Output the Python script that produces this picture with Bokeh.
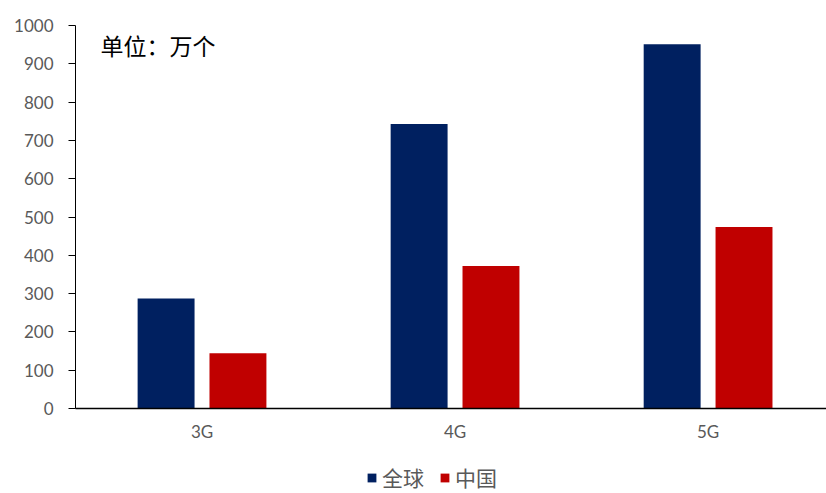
from bokeh.plotting import figure
from bokeh.layouts import column
from bokeh.models import ColumnDataSource, FixedTicker, Range1d, Legend, LegendItem, Label
from bokeh.embed import file_html
from bokeh.resources import INLINE

categories = ["3G", "4G", "5G"]
global_vals = [287, 743, 951]
china_vals = [144, 372, 474]
series_names = ["全球", "中国"]
series_colors = ["#002060", "#C00000"]
y_ticks = [0, 100, 200, 300, 400, 500, 600, 700, 800, 900, 1000]

xc = [i + 0.5 for i in range(len(categories))]
off = 0.142
bw = 0.225
src_g = ColumnDataSource(dict(x=[v - off for v in xc], top=global_vals))
src_c = ColumnDataSource(dict(x=[v + off for v in xc], top=china_vals))

p = figure(width=826, height=444, output_backend="svg", toolbar_location=None,
           x_range=Range1d(0, 2.968), y_range=Range1d(0, 1000),
           min_border_left=75, min_border_right=0, min_border_top=25, min_border_bottom=36)
p.outline_line_color = None
p.xgrid.visible = False
p.ygrid.visible = False

p.vbar(x="x", top="top", width=bw, source=src_g, fill_color=series_colors[0], line_color=None)
p.vbar(x="x", top="top", width=bw, source=src_c, fill_color=series_colors[1], line_color=None)

font = "Lato"
p.yaxis.ticker = FixedTicker(ticks=y_ticks)
p.yaxis.axis_line_color = "black"
p.yaxis.major_tick_line_color = "black"
p.yaxis.major_tick_out = 7
p.yaxis.major_tick_in = 0
p.yaxis.minor_tick_line_color = None
p.yaxis.major_label_text_font = font
p.yaxis.major_label_text_font_size = "17px"
p.yaxis.major_label_text_color = "#595959"
p.yaxis.major_label_standoff = 15

p.xaxis.ticker = FixedTicker(ticks=xc)
p.xaxis.major_label_overrides = {x: c for x, c in zip(xc, categories)}
p.xaxis.axis_line_color = "black"
p.xaxis.axis_line_width = 1.5
p.xaxis.major_tick_line_color = None
p.xaxis.major_tick_out = 0
p.xaxis.minor_tick_line_color = None
p.xaxis.major_label_text_font = font
p.xaxis.major_label_text_font_size = "17px"
p.xaxis.major_label_text_color = "#595959"
p.xaxis.major_label_standoff = 12

p.add_layout(Label(x=0.099, y=948, text="单位：万个", text_font="Noto Sans CJK SC",
                   text_font_size="23px", text_color="black", text_baseline="middle"))

# legend strip (dummy bars outside the visible range only feed the legend swatches)
p2 = figure(width=826, height=49, output_backend="svg", toolbar_location=None,
            x_range=Range1d(0, 1), y_range=Range1d(0, 1),
            min_border_left=75, min_border_right=0, min_border_top=0, min_border_bottom=0)
p2.axis.visible = False
p2.grid.visible = False
p2.outline_line_color = None
lg = p2.vbar(x=[-10], top=[0], width=1, fill_color=series_colors[0], line_color=None)
lc = p2.vbar(x=[-10], top=[0], width=1, fill_color=series_colors[1], line_color=None)
legend = Legend(items=[LegendItem(label=series_names[0], renderers=[lg]),
                       LegendItem(label=series_names[1], renderers=[lc])],
                location=(291, 1), orientation="horizontal",
                padding=0, margin=0, spacing=15, label_standoff=5,
                glyph_width=11, glyph_height=11,
                label_text_font="Noto Sans CJK SC", label_text_font_size="21px",
                label_text_line_height=1.0,
                label_text_color="#595959", border_line_color=None,
                background_fill_alpha=0)
p2.add_layout(legend, "center")

layout = column(p, p2, spacing=0)
open("out.html", "w").write(file_html(layout, INLINE))
